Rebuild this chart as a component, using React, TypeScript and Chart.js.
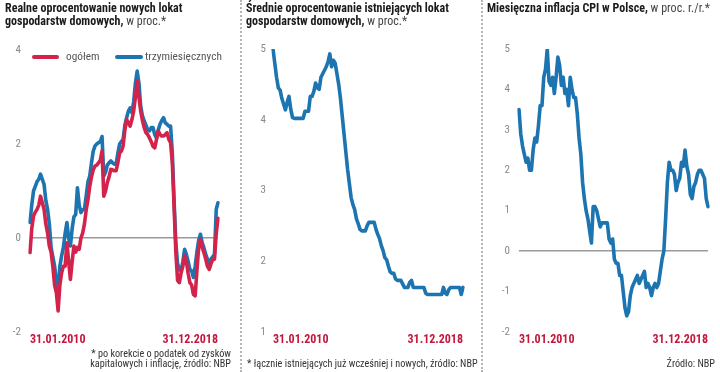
import React, { useEffect, useRef } from "react";
import { Chart, registerables } from "chart.js";

Chart.register(...registerables);

// ---------- categories ----------
const START_YEAR = 2010;
const MONTH_COUNT = 108;
const monthEndLabels: string[] = [];
for (let i = 0; i < MONTH_COUNT; i++) {
  const y = START_YEAR + Math.floor(i / 12);
  const m = (i % 12) + 1;
  const d = new Date(y, m, 0).getDate();
  monthEndLabels.push(`${String(d).padStart(2, "0")}.${String(m).padStart(2, "0")}.${y}`);
}

// ---------- series ----------
const realOverall = [
  -0.31, 0.2, 0.47, 0.55, 0.61, 0.7, 0.89, 0.75, 0.61, 0.3, 0.11, -0.17,
  -0.3, -0.6, -1.0, -1.16, -1.55, -1.0, -0.74, -0.6, -0.6, -0.1, -0.5, -0.88,
  -0.5, -0.17, -0.3, -0.2, -0.24, 0.0, 0.11, 0.3, 0.6, 0.82, 1.1, 1.3,
  1.45, 1.53, 1.55, 1.6, 1.65, 1.85, 0.89, 1.0, 1.18, 1.3, 1.46, 1.45,
  1.43, 1.43, 1.6, 1.81, 1.85, 1.96, 2.3, 2.52, 2.45, 2.38, 2.52, 2.7,
  3.0, 3.34, 3.0, 2.7, 2.5, 2.35, 2.24, 2.2, 2.13, 2.05, 1.95, 1.92,
  2.1, 2.28, 2.2, 2.17, 2.17, 2.2, 2.24, 2.1, 2.03, 1.6, 0.68, -0.3,
  -0.9, -0.95, -0.74, -0.6, -0.38, -0.5, -0.75, -0.95, -1.0, -1.2, -1.23, -0.7,
  -0.2, -0.03, -0.2, -0.31, -0.45, -0.6, -0.67, -0.55, -0.46, -0.45, 0.1, 0.42,
];

const realThreeMonth = [
  0.33, 0.7, 1.0, 1.1, 1.2, 1.25, 1.36, 1.25, 1.14, 0.8, 0.61, 0.3,
  -0.2, -0.4, -0.6, -0.9, -1.2, -0.6, -0.38, -0.2, 0.1, 0.33, 0.0, -0.17,
  0.2, 0.45, 0.5, 1.07, 0.7, 0.54, 0.6, 0.62, 0.9, 1.2, 1.32, 1.6,
  1.85, 1.96, 2.0, 2.03, 2.05, 2.16, 1.32, 1.4, 1.55, 1.6, 1.64, 1.6,
  1.57, 1.57, 1.8, 2.0, 2.05, 2.1, 2.4, 2.56, 2.7, 2.77, 2.67, 2.9,
  3.3, 3.55, 3.3, 2.8, 2.6, 2.49, 2.4, 2.3, 2.28, 2.35, 2.35, 2.2,
  2.13, 2.3, 2.42, 2.5, 2.56, 2.45, 2.42, 2.38, 2.38, 1.81, 0.8, -0.1,
  -0.55, -0.67, -0.7, -0.5, -0.24, -0.35, -0.5, -0.67, -0.7, -0.84, -0.6, -0.3,
  -0.05, 0.08, -0.1, -0.21, -0.35, -0.45, -0.53, -0.45, -0.4, -0.35, 0.61, 0.75,
];

const existingDeposits = [
  5.0, 4.8, 4.6, 4.45, 4.42, 4.3, 4.22, 4.14, 4.25, 4.33, 4.15, 4.03,
  4.02, 4.02, 4.02, 4.02, 4.02, 4.02, 4.12, 4.12, 4.12, 4.33, 4.33, 4.4,
  4.52, 4.45, 4.43, 4.6, 4.65, 4.7, 4.75, 4.82, 4.93, 4.75, 4.84, 4.8,
  4.65, 4.5, 4.3, 4.05, 3.8, 3.55, 3.3, 3.1, 2.9, 2.8, 2.73, 2.6,
  2.53, 2.45, 2.43, 2.43, 2.43, 2.5, 2.55, 2.55, 2.55, 2.55, 2.45, 2.38,
  2.32, 2.22, 2.15, 2.05, 2.02, 1.93, 1.85, 1.83, 1.83, 1.75, 1.73, 1.73,
  1.73, 1.68, 1.63, 1.63, 1.63, 1.7, 1.73, 1.63, 1.63, 1.63, 1.63, 1.63,
  1.63, 1.63, 1.55, 1.53, 1.53, 1.53, 1.53, 1.53, 1.53, 1.53, 1.53, 1.53,
  1.63, 1.55, 1.53, 1.6, 1.63, 1.63, 1.63, 1.63, 1.63, 1.63, 1.53, 1.63,
];

const cpiInflation = [
  3.5, 2.9, 2.6, 2.4, 2.2, 2.3, 2.0, 2.0, 2.5, 2.8, 2.7, 3.1,
  3.6, 3.6, 4.3, 4.5, 5.0, 4.2, 4.1, 4.3, 3.9, 4.3, 4.8, 4.6,
  4.1, 4.3, 3.9, 4.0, 3.6, 4.3, 4.0, 3.8, 3.8, 3.4, 2.8, 2.4,
  1.7, 1.3, 1.0, 0.8, 0.5, 0.2, 1.1, 1.1, 1.0, 0.8, 0.6, 0.7,
  0.7, 0.7, 0.7, 0.3, 0.2, 0.3, -0.2, -0.3, -0.3, -0.6, -0.6, -1.0,
  -1.4, -1.6, -1.5, -1.1, -0.9, -0.8, -0.7, -0.6, -0.8, -0.7, -0.6, -0.5,
  -0.9, -0.8, -0.9, -1.1, -0.9, -0.8, -0.9, -0.8, -0.5, -0.2, 0.0, 0.8,
  1.7, 2.2, 2.0, 2.0, 1.9, 1.5, 1.7, 1.8, 2.2, 2.1, 2.5, 2.1,
  1.9, 1.4, 1.3, 1.6, 1.7, 1.9, 2.0, 2.0, 1.9, 1.8, 1.3, 1.1,
];

// ---------- tick labels ----------
const ticksReal = [-2, 0, 2, 4];
const ticksExisting = [1, 2, 3, 4, 5];
const ticksCpi = [-2, -1, 0, 1, 2, 3, 4, 5];

// ---------- style ----------
const RED = "#d3234b";
const BLUE = "#1c74b0";
const DATE_RED = "#c4173c";
const NARROW = '"Liberation Sans Narrow", "Roboto Condensed", Roboto, sans-serif';

type PanelCfg = {
  left: number;
  width: number;
  padRight: number;
  top: number;
  yWidth: number;
  yPad: number;
  ticks: number[];
  zeroLine: boolean;
  datasets: { data: number[]; color: string }[];
};

function ChartPanel({ cfg }: { cfg: PanelCfg }) {
  const ref = useRef<HTMLCanvasElement | null>(null);
  useEffect(() => {
    if (!ref.current) return;
    const tickVals = cfg.ticks;
    const chart = new Chart(ref.current, {
      type: "line",
      data: {
        labels: monthEndLabels,
        datasets: cfg.datasets.map((d) => ({
          data: d.data,
          borderColor: d.color,
          backgroundColor: d.color,
          borderWidth: 3.6,
          pointRadius: 0,
          tension: 0,
          borderJoinStyle: "round" as const,
          borderCapStyle: "round" as const,
        })),
      },
      options: {
        responsive: false,
        animation: false,
        events: [],
        layout: { padding: { left: 0, right: cfg.padRight, top: cfg.top, bottom: 372 - 332 - 16 } },
        plugins: { legend: { display: false }, tooltip: { enabled: false } },
        scales: {
          x: {
            type: "category",
            offset: false,
            border: { display: false },
            grid: { display: false, drawTicks: false },
            afterFit: (s: any) => {
              s.height = 16;
            },
            ticks: {
              autoSkip: false,
              maxRotation: 0,
              minRotation: 0,
              align: "inner",
              padding: 1,
              color: DATE_RED,
              font: { family: NARROW, size: 12, weight: "bold" },
              callback: (_v: any, i: number) =>
                i === 0 || i === monthEndLabels.length - 1 ? monthEndLabels[i] : null,
            },
          },
          y: {
            min: tickVals[0],
            max: tickVals[tickVals.length - 1],
            border: { display: false },
            afterFit: (s: any) => {
              s.width = cfg.yWidth;
            },
            afterBuildTicks: (s: any) => {
              s.ticks = tickVals.map((v) => ({ value: v }));
            },
            grid: {
              drawTicks: false,
              lineWidth: 1.5,
              color: (c: any) =>
                cfg.zeroLine && c.tick && c.tick.value === 0 ? "#9a9a9a" : "rgba(0,0,0,0)",
            },
            ticks: {
              padding: cfg.yPad,
              color: "#8a8a8a",
              font: { family: NARROW, size: 11 },
              callback: (v: any) => String(v),
            },
          },
        },
      },
    });
    return () => chart.destroy();
  }, [cfg]);
  return (
    <canvas
      ref={ref}
      width={cfg.width}
      height={372}
      style={{ position: "absolute", left: cfg.left, top: 0, width: cfg.width, height: 372 }}
    />
  );
}

const panel1: PanelCfg = {
  left: 0,
  width: 238,
  padRight: 20,
  top: 50,
  yWidth: 30,
  yPad: 9,
  ticks: ticksReal,
  zeroLine: true,
  datasets: [
    { data: realOverall, color: RED },
    { data: realThreeMonth, color: BLUE },
  ],
};
const panel2: PanelCfg = {
  left: 240,
  width: 240,
  padRight: 17,
  top: 49,
  yWidth: 33,
  yPad: 7,
  ticks: ticksExisting,
  zeroLine: false,
  datasets: [{ data: existingDeposits, color: BLUE }],
};
const panel3: PanelCfg = {
  left: 481,
  width: 239,
  padRight: 12,
  top: 49,
  yWidth: 38,
  yPad: 9,
  ticks: ticksCpi,
  zeroLine: true,
  datasets: [{ data: cpiInflation, color: BLUE }],
};

const titleStyle: React.CSSProperties = {
  position: "absolute",
  top: 2,
  fontFamily: NARROW,
  fontWeight: "bold",
  fontSize: 12,
  lineHeight: "13px",
  color: "#1a1a1a",
  whiteSpace: "nowrap",
};
const unitStyle: React.CSSProperties = { fontWeight: "normal", color: "#444" };
const noteStyle: React.CSSProperties = {
  position: "absolute",
  fontFamily: NARROW,
  fontSize: 10.2,
  lineHeight: "10px",
  color: "#333",
  whiteSpace: "nowrap",
};
const legendText: React.CSSProperties = {
  position: "absolute",
  top: 50,
  fontFamily: NARROW,
  fontSize: 11.3,
  lineHeight: "14px",
  color: "#555",
};

export default function App() {
  return (
    <div
      style={{
        position: "fixed",
        left: 0,
        top: 0,
        width: 720,
        height: 372,
        background: "#fff",
        overflow: "hidden",
      }}
    >
      <ChartPanel cfg={panel1} />
      <ChartPanel cfg={panel2} />
      <ChartPanel cfg={panel3} />

      <div style={{ position: "absolute", left: 240, top: 0, height: 372, borderLeft: "2px dotted #b5b5b5" }} />
      <div style={{ position: "absolute", left: 481, top: 0, height: 372, borderLeft: "2px dotted #b5b5b5" }} />

      <div style={{ ...titleStyle, left: 5 }}>
        Realne oprocentowanie nowych lokat
        <br />
        gospodarstw domowych, <span style={unitStyle}>w proc.*</span>
      </div>
      <div style={{ ...titleStyle, left: 246 }}>
        Średnie oprocentowanie istniejących lokat
        <br />
        gospodarstw domowych, <span style={unitStyle}>w proc.*</span>
      </div>
      <div style={{ ...titleStyle, left: 487 }}>
        Miesięczna inflacja CPI w Polsce, <span style={unitStyle}>w proc. r./r.*</span>
      </div>

      <div style={{ position: "absolute", left: 32, top: 55, width: 27, height: 4, borderRadius: 2, background: RED }} />
      <div style={{ ...legendText, left: 66 }}>ogółem</div>
      <div style={{ position: "absolute", left: 115, top: 55, width: 28, height: 4, borderRadius: 2, background: BLUE }} />
      <div style={{ ...legendText, left: 145 }}>trzymiesięcznych</div>

      <div style={{ ...noteStyle, left: 0, width: 231, top: 349, textAlign: "right" }}>
        * po korekcie o podatek od zysków
        <br />
        kapitałowych i inflację, źródło: NBP
      </div>
      <div style={{ ...noteStyle, left: 247, top: 359 }}>
        * łącznie istniejących już wcześniej i nowych, źródło: NBP
      </div>
      <div style={{ ...noteStyle, left: 600, width: 115, top: 359, textAlign: "right" }}>Źródło: NBP</div>
    </div>
  );
}
